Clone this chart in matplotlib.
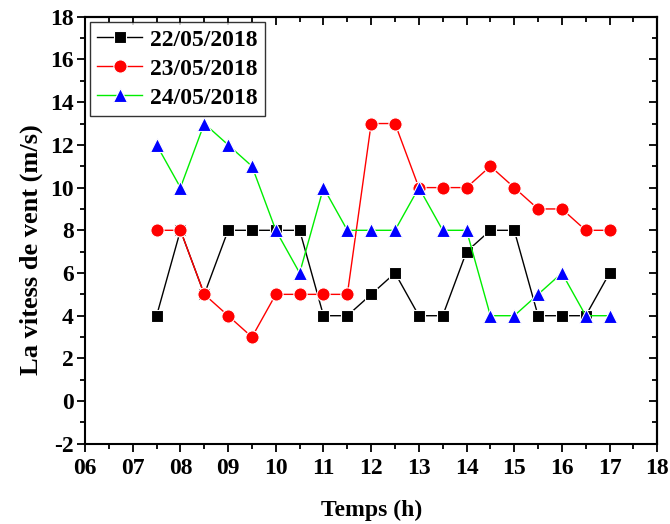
import matplotlib
matplotlib.use("Agg")
import matplotlib.pyplot as plt
from matplotlib.ticker import MultipleLocator

plt.rcParams['font.family'] = ['Liberation Serif', 'DejaVu Serif']
plt.rcParams['font.weight'] = 'bold'
plt.rcParams['axes.unicode_minus'] = False

hours = [7.5, 8, 8.5, 9, 9.5, 10, 10.5, 11, 11.5, 12, 12.5, 13, 13.5, 14, 14.5, 15, 15.5, 16, 16.5, 17]
d22 = [4, 8, 5, 8, 8, 8, 8, 4, 4, 5, 6, 4, 4, 7, 8, 8, 4, 4, 4, 6]
d23 = [8, 8, 5, 4, 3, 5, 5, 5, 5, 13, 13, 10, 10, 10, 11, 10, 9, 9, 8, 8]
d24 = [12, 10, 13, 12, 11, 8, 6, 10, 8, 8, 8, 10, 8, 8, 4, 4, 5, 6, 4, 4]
labels = ['22/05/2018', '23/05/2018', '24/05/2018']
xticks = [6, 7, 8, 9, 10, 11, 12, 13, 14, 15, 16, 17, 18]
xticklabels = ['06', '07', '08', '09', '10', '11', '12', '13', '14', '15', '16', '17', '18']
yticks = [-2, 0, 2, 4, 6, 8, 10, 12, 14, 16, 18]

fig = plt.figure(figsize=(6.7, 5.24), dpi=100)
ax = fig.add_axes([0.127, 0.153, 0.854, 0.815])

ax.plot(hours, d22, color='black', lw=1, marker='s', ms=8.5, mfc='black', mec='white', mew=0.8, label=labels[0])
ax.plot(hours, d23, color='red', lw=1, marker='o', ms=9.5, mfc='red', mec='white', mew=0.8, label=labels[1])
ax.plot(hours, d24, color='#00ee00', lw=1, marker='^', ms=10, mfc='blue', mec='white', mew=0.8, label=labels[2])

ax.set_xlim(6, 18)
ax.set_ylim(-2, 18)
ax.set_xticks(xticks)
ax.set_xticklabels(xticklabels)
ax.set_yticks(yticks)
ax.set_yticklabels([str(v) for v in yticks])
ax.xaxis.set_minor_locator(MultipleLocator(0.5))
ax.yaxis.set_minor_locator(MultipleLocator(1))
ax.tick_params(which='both', direction='out', width=1.3)
ax.tick_params(which='major', length=6, labelsize=17)
ax.tick_params(which='minor', length=3.5)
ax.tick_params(axis='x', which='major', pad=4)
ax.tick_params(axis='y', which='major', pad=2)
for s in ax.spines.values():
    s.set_linewidth(1.5)

# inward ticks on top and right
top = ax.secondary_xaxis('top')
top.set_xticks(xticks)
top.xaxis.set_minor_locator(MultipleLocator(0.5))
top.tick_params(which='both', direction='in', width=1.3, labeltop=False)
top.tick_params(which='major', length=6)
top.tick_params(which='minor', length=3.5)
top.set_xticklabels([])
top.spines['top'].set_linewidth(1.5)
right = ax.secondary_yaxis('right')
right.set_yticks(yticks)
right.yaxis.set_minor_locator(MultipleLocator(1))
right.tick_params(which='both', direction='in', width=1.3, labelright=False)
right.tick_params(which='major', length=6)
right.tick_params(which='minor', length=3.5)
right.set_yticklabels([])
right.spines['right'].set_linewidth(1.5)

ax.set_xlabel('Temps (h)', fontsize=17, fontweight='bold')
ax.xaxis.set_label_coords(0.5, -0.131)
ax.set_ylabel('La vitess de vent (m/s)', fontsize=19, fontweight='bold')
ax.yaxis.set_label_coords(-0.073, 0.454)

leg = ax.legend(loc='upper left', fontsize=17, frameon=True, fancybox=False, edgecolor='black',
                handlelength=1.9, borderpad=0.3, labelspacing=0.32, handletextpad=0.35,
                borderaxespad=0.22)
leg.get_frame().set_linewidth(1.0)

fig.savefig('out.png', dpi=100)
